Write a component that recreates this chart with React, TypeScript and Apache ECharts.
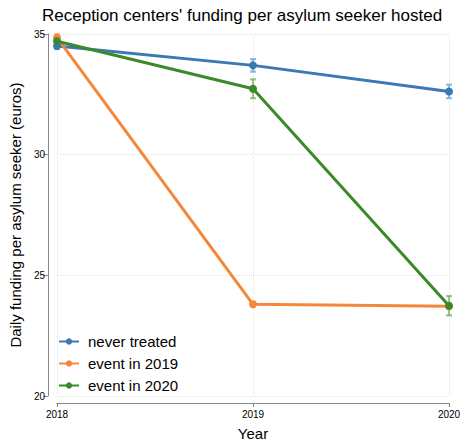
import React, { useEffect, useRef } from "react";
import * as echarts from "echarts";

// Years on the horizontal axis
const years = ["2018", "2019", "2020"];

// Mean daily funding per asylum seeker (euros), by group
const neverTreated = [34.5, 33.7, 32.62];
const event2019 = [34.85, 23.8, 23.72];
const event2020 = [34.7, 32.73, 23.74];

// Half-width of the confidence intervals (euros)
const neverTreatedErr = [0.12, 0.26, 0.28];
const event2019Err = [0.15, 0.1, 0.1];
const event2020Err = [0.15, 0.39, 0.4];

const seriesNames = ["never treated", "event in 2019", "event in 2020"];
const colors = ["#3b78b5", "#f4883a", "#3a8a2a"];
const errColors = ["rgba(110,170,220,0.75)", "rgba(248,170,110,0.7)", "rgba(120,170,100,0.7)"];

const FONT = "'Liberation Sans', Arial, Helvetica, sans-serif";

function errorSeries(name: string, values: number[], errs: number[], color: string) {
  const data = values.map((v, i) => [i, v - errs[i], v + errs[i]]);
  return {
    type: "custom",
    name: name + " CI",
    data,
    z: 1,
    silent: true,
    renderItem: (_params: any, api: any) => {
      const x = api.value(0);
      const lo = api.coord([x, api.value(1)]);
      const hi = api.coord([x, api.value(2)]);
      const cap = 3;
      const style = { stroke: color, lineWidth: 2.2, fill: "none" };
      return {
        type: "group",
        children: [
          { type: "line", shape: { x1: lo[0], y1: lo[1], x2: hi[0], y2: hi[1] }, style },
          { type: "line", shape: { x1: lo[0] - cap, y1: lo[1], x2: lo[0] + cap, y2: lo[1] }, style },
          { type: "line", shape: { x1: hi[0] - cap, y1: hi[1], x2: hi[0] + cap, y2: hi[1] }, style },
        ],
      };
    },
  };
}

function lineSeries(name: string, values: number[], color: string) {
  return {
    type: "line",
    name,
    data: values,
    z: 3,
    symbol: "circle",
    symbolSize: 8,
    lineStyle: { width: 3, color },
    itemStyle: { color },
  };
}

export default function App() {
  const ref = useRef<HTMLDivElement>(null);

  useEffect(() => {
    if (!ref.current) return;
    const chart = echarts.init(ref.current, undefined, { renderer: "svg" });
    const groups = [neverTreated, event2019, event2020];
    const errs = [neverTreatedErr, event2019Err, event2020Err];
    chart.setOption({
      animation: false,
      backgroundColor: "#fff",
      textStyle: { fontFamily: FONT },
      title: {
        text: "Reception centers' funding per asylum seeker hosted",
        left: 37,
        top: 2,
        textStyle: { fontFamily: FONT, fontSize: 17, fontWeight: "normal", color: "#000" },
      },
      legend: {
        data: seriesNames,
        orient: "vertical",
        left: 53,
        top: 329,
        itemWidth: 20,
        itemHeight: 8,
        itemGap: 7,
        textStyle: { fontFamily: FONT, fontSize: 15, color: "#000", padding: [0, 0, 0, 4] },
      },
      grid: { left: 57, right: 18, top: 34, bottom: 45, containLabel: false, outerBoundsMode: "none" },
      xAxis: {
        type: "category",
        data: years,
        boundaryGap: false,
        offset: 7,
        name: "Year",
        nameLocation: "middle",
        nameGap: 23,
        nameTextStyle: { fontFamily: FONT, fontSize: 15, color: "#000" },
        axisLine: { lineStyle: { color: "#888", width: 1 } },
        axisTick: { show: true, alignWithLabel: true, length: 4, lineStyle: { color: "#888" } },
        axisLabel: { fontFamily: FONT, fontSize: 10, color: "#000", margin: 6 },
        splitLine: { show: true, lineStyle: { type: "dotted", color: "#e2e2e2" } },
      },
      yAxis: {
        type: "value",
        min: 20,
        max: 35,
        interval: 5,
        offset: 9,
        name: "Daily funding per asylum seeker (euros)",
        nameLocation: "middle",
        nameGap: 22,
        nameRotate: 90,
        nameTextStyle: { fontFamily: FONT, fontSize: 15, color: "#000" },
        axisLine: { show: true, lineStyle: { color: "#888", width: 1 } },
        axisTick: { show: true, length: 5, lineStyle: { color: "#888" } },
        axisLabel: { fontFamily: FONT, fontSize: 10, color: "#000", margin: 3 },
        splitLine: { show: true, lineStyle: { type: "dotted", color: "#e2e2e2" } },
      },
      series: [
        ...groups.map((g, i) => errorSeries(seriesNames[i], g, errs[i], errColors[i])),
        ...groups.map((g, i) => lineSeries(seriesNames[i], g, colors[i])),
      ],
    });
    return () => chart.dispose();
  }, []);

  return <div ref={ref} style={{ width: 467, height: 441, position: "absolute", left: 0, top: 0 }} />;
}
